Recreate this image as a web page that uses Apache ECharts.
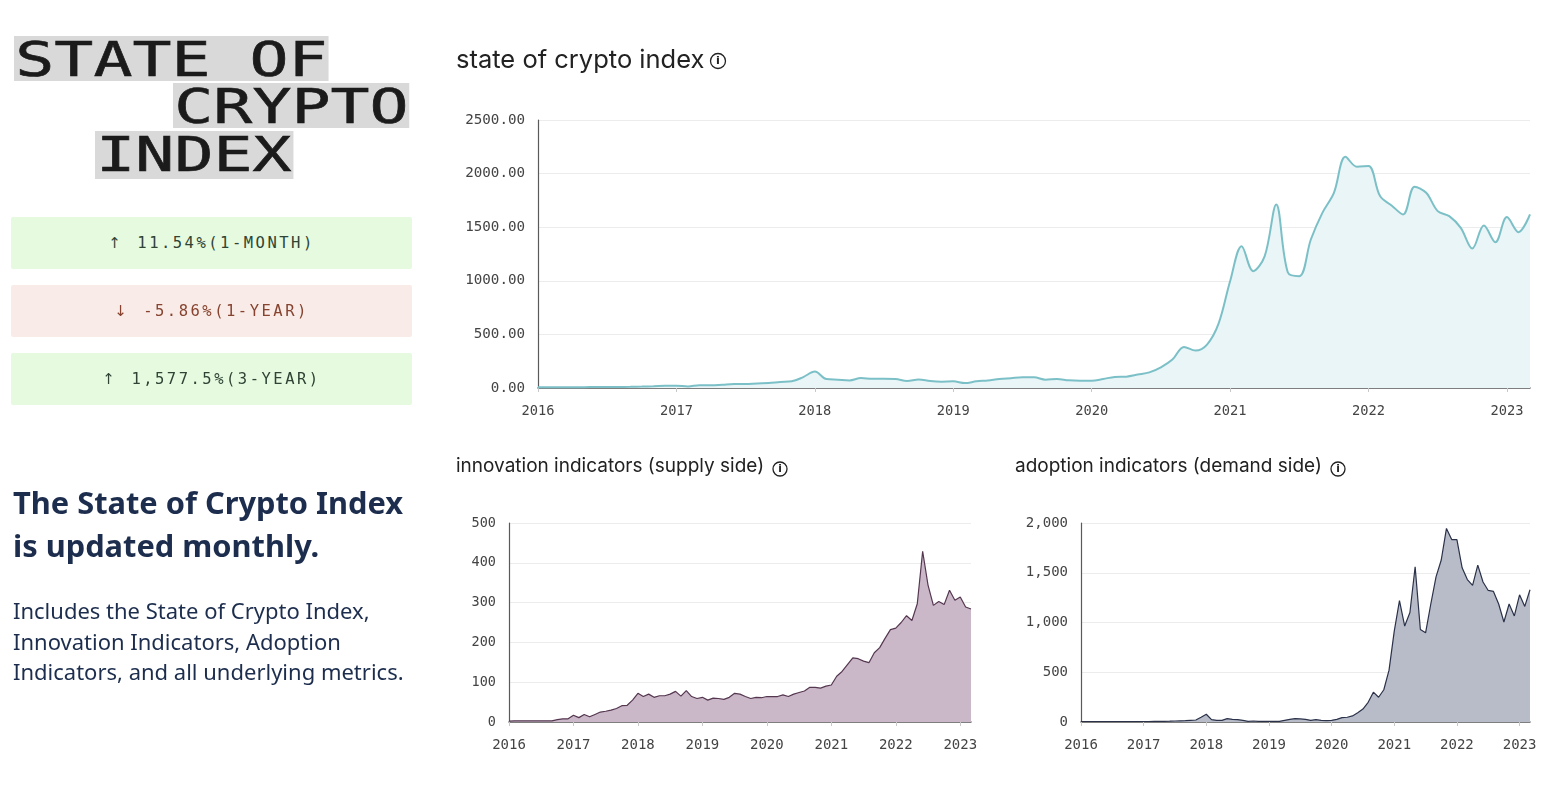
<!DOCTYPE html>
<html>
<head>
<meta charset="utf-8">
<script src="https://cdn.jsdelivr.net/npm/echarts@6/dist/echarts.min.js"></script>
<style>
  html, body { margin:0; padding:0; background:#fff; width:1560px; height:798px; overflow:hidden; }
  #chart { position:absolute; left:0; top:0; width:1560px; height:798px; }
  #left { position:absolute; left:0; top:0; width:440px; height:798px; z-index:2; }
  .disp { position:absolute; height:45px; line-height:47px; background:#d9d9d9; color:#1b1b1b;
          font-family:"DejaVu Sans Mono", monospace; font-size:48px; white-space:nowrap;
          transform:scaleX(1.35); transform-origin:left top; padding:0 1px; -webkit-text-stroke:0.6px #1b1b1b; }
  .box { position:absolute; left:11px; width:401px; height:52px; line-height:52px; text-align:center;
         font-family:"DejaVu Sans Mono", monospace; font-size:15.5px; letter-spacing:2.5px; border-radius:2px; }
  .up { background:#e6fae0; color:#2f4434; }
  .down { background:#f9ece8; color:#87432f; }
  .arr { display:inline-block; margin-right:14px; font-size:15px; font-family:"DejaVu Sans", sans-serif; }
  #head { position:absolute; left:13px; top:481px; width:430px; font-family:"Noto Sans", sans-serif; font-weight:700;
          font-size:30.8px; line-height:43px; color:#1c2d4d; white-space:nowrap; }
  #body { position:absolute; left:13px; top:595px; width:430px; font-family:"Noto Sans", sans-serif; font-weight:400;
          font-size:22px; line-height:30.5px; color:#1c2d4d; white-space:nowrap; }
</style>
</head>
<body>
<div id="chart"></div>
<div id="left">
  <div class="disp" style="left:14px; top:36px;">STATE OF</div>
  <div class="disp" style="left:173px; top:83px;">CRYPTO</div>
  <div class="disp" style="left:95px; top:131px; height:48px;">INDEX</div>
  <div class="box up" style="top:217px;"><span class="arr">↑</span>11.54%(1-MONTH)</div>
  <div class="box down" style="top:285px;"><span class="arr">↓</span>-5.86%(1-YEAR)</div>
  <div class="box up" style="top:353px;"><span class="arr">↑</span>1,577.5%(3-YEAR)</div>
  <div id="head">The State of Crypto Index<br>is updated monthly.</div>
  <div id="body">Includes the State of Crypto Index,<br>Innovation Indicators, Adoption<br>Indicators, and all underlying metrics.</div>
</div>
<script>
// ---- categories: months from 2016-01 to 2023-03 ----
const years = ['2016','2017','2018','2019','2020','2021','2022','2023'];
const months = [];
years.forEach(function (y) {
  for (let m = 1; m <= 12; m++) {
    if (y === '2023' && m > 3) break;
    months.push(y + '-' + (m < 10 ? '0' + m : '' + m));
  }
});

// ---- titles ----
const titleMain = 'state of crypto index';
const titleInnov = 'innovation indicators (supply side)';
const titleAdopt = 'adoption indicators (demand side)';

// ---- series values (monthly) ----
const indexValues = [
  6,7,7,8,8,9,9,10,11,13,16,20,
  22,15,25,25,31,37,37,43,46,56,62,102,
  154,83,77,71,93,86,86,83,65,80,65,59,
  62,46,62,71,84,92,100,100,78,84,72,68,
  68,84,103,106,125,146,193,265,383,349,405,600,
  996,1323,1090,1230,1712,1080,1043,1385,1634,1821,2157,2064,
  2070,1790,1703,1619,1877,1821,1650,1603,1494,1301,1516,1360,
  1594,1454,1619
];
const innovationValues = [
  2,3,3,3,3,3,3,3,3,6,8,8,
  17,11,19,13,19,25,27,30,34,41,42,55,
  72,64,70,62,66,66,70,77,65,79,64,59,
  62,55,60,59,57,62,72,70,64,59,62,61,
  64,64,64,68,64,70,74,78,87,87,85,90,
  93,115,127,144,161,159,153,149,174,187,210,232,
  236,250,267,255,297,429,344,293,303,295,331,306,
  314,289,284
];
const adoptionValues = [
  5,5,5,5,5,5,5,5,5,5,5,5,
  5,5,6,6,7,8,10,12,14,17,20,48,
  78,24,17,17,34,27,24,17,7,10,7,7,
  7,7,7,17,27,34,31,27,17,24,17,14,
  17,27,44,48,61,92,130,198,300,249,324,521,
  913,1220,964,1100,1560,930,896,1186,1458,1628,1945,1833,
  1833,1550,1431,1373,1577,1407,1322,1312,1186,1005,1186,1066,
  1278,1162,1329
];

const monoFont = '"DejaVu Sans Mono", "Liberation Mono", monospace';
const isJan = function (idx, val) { return String(val).slice(5) === '01'; };

function xAxis(gridIndex, size) {
  return {
    type: 'category', gridIndex: gridIndex, data: months, boundaryGap: false,
    axisLine: { show: true, lineStyle: { color: '#5a5a5a', width: 1.5 } },
    axisTick: { show: true, interval: isJan, length: 4, lineStyle: { color: '#c8c8c8' } },
    axisLabel: { interval: isJan, formatter: function (v) { return v.slice(0, 4); },
                 color: '#444', fontFamily: monoFont, fontSize: size, margin: 16 },
    splitLine: { show: false }
  };
}
function yAxis(gridIndex, max, interval, fmt, size) {
  return {
    type: 'value', gridIndex: gridIndex, min: 0, max: max, interval: interval,
    axisLine: { show: true, lineStyle: { color: '#5a5a5a', width: 1.2 } },
    axisTick: { show: false },
    axisLabel: { color: '#444', fontFamily: monoFont, fontSize: size, margin: 13, formatter: fmt },
    splitLine: { show: true, lineStyle: { color: '#ececec' } }
  };
}

function infoIcon(cx, cy, r) {
  return [
    { type: 'circle', shape: { cx: cx, cy: cy, r: r }, style: { fill: 'none', stroke: '#222', lineWidth: 1.3 } },
    { type: 'text', x: cx, y: cy + 0.5, style: { text: 'i', fill: '#222', font: '600 ' + (r * 1.5) + 'px "DejaVu Sans", sans-serif',
      align: 'center', verticalAlign: 'middle' } }
  ];
}

const chart = echarts.init(document.getElementById('chart'));
chart.setOption({
  animation: false,
  backgroundColor: '#ffffff',
  title: [
    { text: titleMain, left: 456, top: 47, padding: 0,
      textStyle: { fontFamily: 'Inter, "Noto Sans", sans-serif', fontSize: 25.5, fontWeight: 'normal', color: '#222' } },
    { text: titleInnov, left: 456, top: 457, padding: 0,
      textStyle: { fontFamily: 'Inter, "Noto Sans", sans-serif', fontSize: 19, fontWeight: 'normal', color: '#222' } },
    { text: titleAdopt, left: 1015, top: 457, padding: 0,
      textStyle: { fontFamily: 'Inter, "Noto Sans", sans-serif', fontSize: 19, fontWeight: 'normal', color: '#222' } }
  ],
  graphic: [].concat(infoIcon(718, 61, 7.5), infoIcon(780, 469, 7), infoIcon(1338, 469, 7)),
  grid: [
    { left: 538, right: 30, top: 120, bottom: 410 },
    { left: 509, right: 589, top: 523, bottom: 76 },
    { left: 1081, right: 30, top: 523, bottom: 76 }
  ],
  xAxis: [xAxis(0, 13.7), xAxis(1, 14), xAxis(2, 14)],
  yAxis: [
    yAxis(0, 2500, 500, function (v) { return v.toFixed(2); }, 14.2),
    yAxis(1, 500, 100, function (v) { return String(v); }, 13.5),
    yAxis(2, 2000, 500, function (v) { return v.toLocaleString('en-US'); }, 14)
  ],
  series: [
    { type: 'line', name: titleMain, xAxisIndex: 0, yAxisIndex: 0, data: indexValues, smooth: 0.35,
      showSymbol: false, lineStyle: { color: '#7cc0c7', width: 2 }, areaStyle: { color: '#eaf5f8', opacity: 1 } },
    { type: 'line', name: titleInnov, xAxisIndex: 1, yAxisIndex: 1, data: innovationValues, smooth: false,
      showSymbol: false, lineStyle: { color: '#553750', width: 1.2 }, areaStyle: { color: '#cab8c9', opacity: 1 } },
    { type: 'line', name: titleAdopt, xAxisIndex: 2, yAxisIndex: 2, data: adoptionValues, smooth: false,
      showSymbol: false, lineStyle: { color: '#2a3149', width: 1.2 }, areaStyle: { color: '#b8bcc9', opacity: 1 } }
  ]
});
</script>
</body>
</html>
